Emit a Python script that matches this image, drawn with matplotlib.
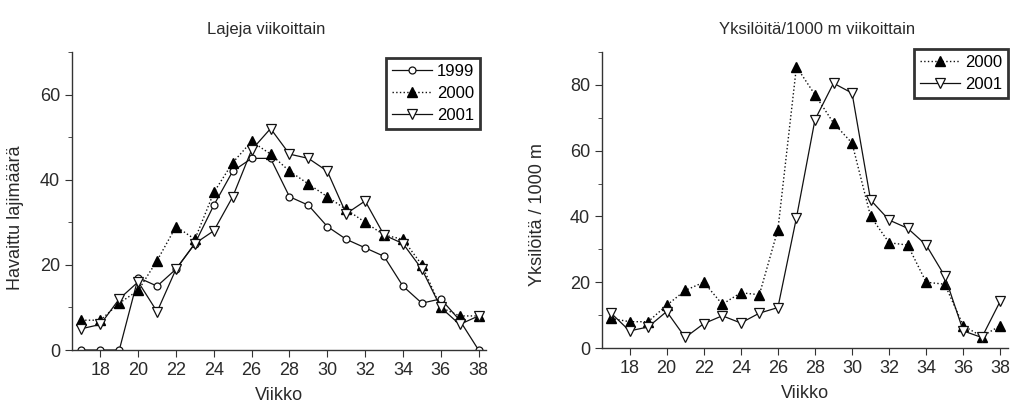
import numpy as np
import matplotlib
matplotlib.use("Agg")
import matplotlib.pyplot as plt
from matplotlib.ticker import MultipleLocator

# Weeks shown on both charts
weeks = list(range(17, 39))

# Left chart: species count per week
species_1999 = [0, 0, 0, 17, 15, 19, 25, 34, 42, 45, 45, 36, 34, 29, 26, 24, 22, 15, 11, 12, 7, 0]
species_2000 = [7, 7, 11, 14, 21, 29, 26, 37, 44, 49, 46, 42, 39, 36, 33, 30, 27, 26, 20, 10, 8, 8]
species_2001 = [5, 6, 12, 16, 9, 19, 25, 28, 36, 47, 52, 46, 45, 42, 32, 35, 27, 25, 19, 10, 6, 8]

# Right chart: individuals per 1000 m per week
ind_2000 = [9, 8, 8, 13, 17.5, 20, 13.3, 16.8, 16.2, 36, 85.5, 77, 68.4, 62.3, 40, 32, 31.3, 20, 19.4, 6.8, 3.5, 6.8]
ind_2001 = [10.6, 5.2, 6.4, 11.1, 3.2, 7.4, 9.8, 7.6, 10.6, 12.3, 39.6, 69.4, 80.5, 77.5, 45, 38.9, 36.4, 31.3, 21.9, 5.2, 3.2, 14.3]

plt.rcParams['font.family'] = ['Liberation Sans', 'DejaVu Sans']
text_color = '#2a2a2a'
line_color = '#111111'
axis_color = '#333333'


def style_axes(ax, ymax):
    # Only left and bottom axis lines, ticks pointing out
    ax.spines['top'].set_visible(False)
    ax.spines['right'].set_visible(False)
    for side in ['left', 'bottom']:
        ax.spines[side].set_color(axis_color)
        ax.spines[side].set_linewidth(1.0)
    ax.set_xlim(16.5, 38.4)
    ax.set_ylim(0, ymax)
    ax.set_xticks(range(18, 39, 2))
    ax.yaxis.set_major_locator(MultipleLocator(20))
    ax.yaxis.set_minor_locator(MultipleLocator(10))
    ax.tick_params(which='both', direction='out', colors=axis_color, labelcolor=text_color, labelsize=13)
    ax.tick_params(which='major', length=5)
    ax.tick_params(which='minor', length=3)
    ax.set_xlabel("Viikko", fontsize=13, color=text_color, labelpad=6)


def add_legend(ax, anchor):
    leg = ax.legend(loc='upper right', bbox_to_anchor=anchor, fancybox=False, fontsize=12,
                    handlelength=2.4, handletextpad=0.3, borderpad=0.35, labelspacing=0.42,
                    borderaxespad=0)
    leg.get_frame().set_edgecolor('black')
    leg.get_frame().set_linewidth(2)


def main():
    fig = plt.figure(figsize=(10.2, 4.05), dpi=100)

    # Left chart
    ax1 = fig.add_axes([0.0706, 0.1358, 0.406, 0.736])
    ax1.plot(weeks, species_1999, '-', color=line_color, lw=0.9, marker='o', ms=5,
             mfc='white', mec=line_color, mew=0.9, label='1999')
    ax1.plot(weeks, species_2000, ':', color=line_color, lw=1.0, marker='^', ms=7,
             mfc='black', mec='black', label='2000')
    ax1.plot(weeks, species_2001, '-', color=line_color, lw=0.9, marker='v', ms=7,
             mfc='white', mec=line_color, mew=0.9, label='2001')
    style_axes(ax1, 70)
    ax1.set_ylabel("Havaittu lajimäärä", fontsize=13, color=text_color)
    ax1.yaxis.set_label_coords(-0.116, 0.445)
    add_legend(ax1, (0.985, 0.98))
    fig.text(0.261, 0.915, "Lajeja viikoittain", ha='center', fontsize=12, color=text_color)

    # Right chart
    ax2 = fig.add_axes([0.590, 0.1407, 0.398, 0.731])
    ax2.plot(weeks, ind_2000, ':', color=line_color, lw=1.0, marker='^', ms=7,
             mfc='black', mec='black', label='2000')
    ax2.plot(weeks, ind_2001, '-', color=line_color, lw=0.9, marker='v', ms=7,
             mfc='white', mec=line_color, mew=0.9, label='2001')
    style_axes(ax2, 90)
    ax2.set_ylabel("Yksilöitä / 1000 m", fontsize=13, color=text_color)
    ax2.yaxis.set_label_coords(-0.138, 0.45)
    add_legend(ax2, (1.0, 1.01))
    fig.text(0.801, 0.915, "Yksilöitä/1000 m viikoittain", ha='center', fontsize=12, color=text_color)

    fig.savefig("out.png", dpi=100)


if __name__ == "__main__":
    main()
